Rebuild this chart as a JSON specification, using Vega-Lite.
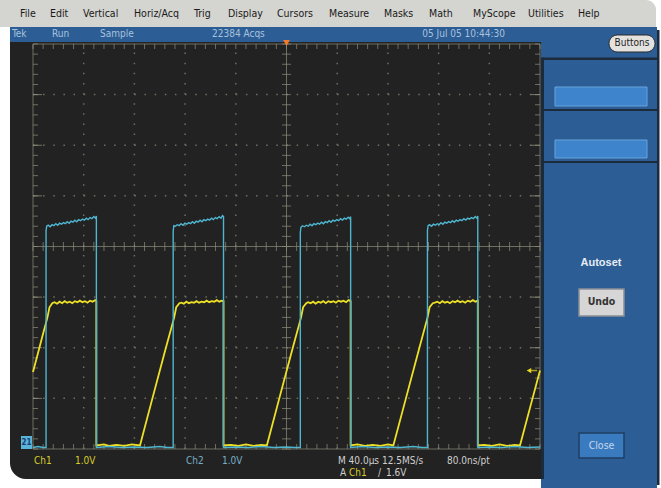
{
 "$schema": "https://vega.github.io/schema/vega-lite/v6.json",
 "width": 661, "height": 488, "padding": 0,
 "autosize": {"type": "fit", "contains": "padding"},
 "background": "#ffffff",
 "config": {"view": {"stroke": null}},
 "datasets": {
  "tx": [{"t":0},{"t":8},{"t":16},{"t":24},{"t":32},{"t":40},{"t":48},{"t":56},{"t":64},{"t":72},{"t":80},{"t":88},{"t":96},{"t":104},{"t":112},{"t":120},{"t":128},{"t":136},{"t":144},{"t":152},{"t":160},{"t":168},{"t":176},{"t":184},{"t":192},{"t":200},{"t":208},{"t":216},{"t":224},{"t":232},{"t":240},{"t":248},{"t":256},{"t":264},{"t":272},{"t":280},{"t":288},{"t":296},{"t":304},{"t":312},{"t":320},{"t":328},{"t":336},{"t":344},{"t":352},{"t":360},{"t":368},{"t":376},{"t":384},{"t":392},{"t":400}],
  "vy": [{"v":0},{"v":0.2},{"v":0.4},{"v":0.6},{"v":0.8},{"v":1},{"v":1.2},{"v":1.4},{"v":1.6},{"v":1.8},{"v":2},{"v":2.2},{"v":2.4},{"v":2.6},{"v":2.8},{"v":3},{"v":3.2},{"v":3.4},{"v":3.6},{"v":3.8},{"v":4},{"v":4.2},{"v":4.4},{"v":4.6},{"v":4.8},{"v":5},{"v":5.2},{"v":5.4},{"v":5.6},{"v":5.8},{"v":6},{"v":6.2},{"v":6.4},{"v":6.6},{"v":6.8},{"v":7},{"v":7.2},{"v":7.4},{"v":7.6},{"v":7.8},{"v":8}],
  "ch1": [{"t":0,"v":1.52},{"t":4,"v":1.9},{"t":8,"v":2.28},{"t":11.4,"v":2.6},{"t":13,"v":2.8},{"t":15.2,"v":2.88},{"t":17,"v":2.9},{"t":19,"v":2.87},{"t":21,"v":2.91},{"t":23,"v":2.88},{"t":25,"v":2.92},{"t":27,"v":2.89},{"t":29,"v":2.91},{"t":31,"v":2.88},{"t":33,"v":2.92},{"t":35,"v":2.9},{"t":37,"v":2.93},{"t":39,"v":2.9},{"t":41,"v":2.92},{"t":43,"v":2.89},{"t":45,"v":2.93},{"t":47,"v":2.91},{"t":49,"v":2.94},{"t":50,"v":2.92},{"t":50,"v":0.07},
   {"t":56,"v":0.09},{"t":60,"v":0.06},{"t":66,"v":0.08},{"t":72,"v":0.06},{"t":78,"v":0.09},{"t":84.4,"v":0.07},{"t":94,"v":0.98},{"t":104,"v":1.92},{"t":111.4,"v":2.6},{"t":113,"v":2.8},{"t":115.5,"v":2.88},
   {"t":117,"v":2.89},{"t":119,"v":2.87},{"t":121,"v":2.91},{"t":123,"v":2.88},{"t":125,"v":2.9},{"t":127,"v":2.89},{"t":129,"v":2.92},{"t":131,"v":2.89},{"t":133,"v":2.91},{"t":135,"v":2.9},{"t":137,"v":2.93},{"t":139,"v":2.9},{"t":141,"v":2.92},{"t":143,"v":2.91},{"t":145,"v":2.94},{"t":147,"v":2.91},{"t":149,"v":2.93},{"t":150.3,"v":2.92},{"t":150.3,"v":0.07},
   {"t":156,"v":0.08},{"t":162,"v":0.06},{"t":168,"v":0.09},{"t":174,"v":0.06},{"t":180,"v":0.08},{"t":184.5,"v":0.07},{"t":194,"v":0.97},{"t":204,"v":1.91},{"t":211.5,"v":2.6},{"t":213.1,"v":2.8},{"t":215.6,"v":2.88},
   {"t":217,"v":2.9},{"t":219,"v":2.88},{"t":221,"v":2.91},{"t":223,"v":2.87},{"t":225,"v":2.91},{"t":227,"v":2.89},{"t":229,"v":2.92},{"t":231,"v":2.88},{"t":233,"v":2.92},{"t":235,"v":2.9},{"t":237,"v":2.92},{"t":239,"v":2.89},{"t":241,"v":2.93},{"t":243,"v":2.91},{"t":245,"v":2.93},{"t":247,"v":2.9},{"t":249,"v":2.94},{"t":250.6,"v":2.92},{"t":250.6,"v":0.07},
   {"t":256,"v":0.09},{"t":262,"v":0.06},{"t":268,"v":0.08},{"t":274,"v":0.06},{"t":280,"v":0.09},{"t":284.3,"v":0.07},{"t":294,"v":0.98},{"t":304,"v":1.92},{"t":311.3,"v":2.6},{"t":312.9,"v":2.8},{"t":315.4,"v":2.88},
   {"t":317,"v":2.89},{"t":319,"v":2.91},{"t":321,"v":2.88},{"t":323,"v":2.92},{"t":325,"v":2.89},{"t":327,"v":2.91},{"t":329,"v":2.88},{"t":331,"v":2.92},{"t":333,"v":2.9},{"t":335,"v":2.93},{"t":337,"v":2.9},{"t":339,"v":2.92},{"t":341,"v":2.89},{"t":343,"v":2.93},{"t":345,"v":2.91},{"t":347,"v":2.94},{"t":349,"v":2.91},{"t":350.9,"v":2.93},{"t":350.9,"v":0.07},
   {"t":356,"v":0.08},{"t":362,"v":0.06},{"t":368,"v":0.09},{"t":374,"v":0.06},{"t":380,"v":0.08},{"t":384.2,"v":0.07},{"t":394,"v":0.99},{"t":400,"v":1.55}],
  "ch2": [{"t":0,"v":0.03},{"t":4,"v":0.05},{"t":8,"v":0.03},
   {"t":10.3,"v":0.03},{"t":10.3,"v":4.31},{"t":10.8,"v":4.4},{"t":12,"v":4.42},{"t":13.5,"v":4.39},{"t":15,"v":4.43},{"t":16.5,"v":4.41},{"t":18,"v":4.45},{"t":19.5,"v":4.42},{"t":21,"v":4.46},{"t":22.5,"v":4.44},{"t":24,"v":4.47},{"t":25.5,"v":4.45},{"t":27,"v":4.49},{"t":28.5,"v":4.46},{"t":30,"v":4.5},{"t":31.5,"v":4.48},{"t":33,"v":4.52},{"t":34.5,"v":4.49},{"t":36,"v":4.53},{"t":37.5,"v":4.51},{"t":39,"v":4.54},{"t":40.5,"v":4.52},{"t":42,"v":4.56},{"t":43.5,"v":4.53},{"t":45,"v":4.57},{"t":46.5,"v":4.55},{"t":48,"v":4.59},{"t":49.2,"v":4.56},{"t":50,"v":4.6},{"t":50,"v":0.03},
   {"t":60,"v":0.05},{"t":70,"v":0.03},{"t":80,"v":0.04},{"t":90,"v":0.03},{"t":100,"v":0.05},{"t":106,"v":0.03},
   {"t":110.6,"v":0.03},{"t":110.6,"v":4.3},{"t":111.1,"v":4.41},{"t":112.3,"v":4.4},{"t":113.8,"v":4.43},{"t":115.3,"v":4.41},{"t":116.8,"v":4.45},{"t":118.3,"v":4.42},{"t":119.8,"v":4.46},{"t":121.3,"v":4.44},{"t":122.8,"v":4.47},{"t":124.3,"v":4.45},{"t":125.8,"v":4.49},{"t":127.3,"v":4.46},{"t":128.8,"v":4.5},{"t":130.3,"v":4.48},{"t":131.8,"v":4.52},{"t":133.3,"v":4.49},{"t":134.8,"v":4.53},{"t":136.3,"v":4.51},{"t":137.8,"v":4.54},{"t":139.3,"v":4.52},{"t":140.8,"v":4.56},{"t":142.3,"v":4.53},{"t":143.8,"v":4.57},{"t":145.3,"v":4.55},{"t":146.8,"v":4.59},{"t":148.3,"v":4.56},{"t":149.5,"v":4.61},{"t":150.3,"v":4.59},{"t":150.3,"v":0.03},
   {"t":160,"v":0.04},{"t":170,"v":0.03},{"t":180,"v":0.05},{"t":190,"v":0.03},{"t":200,"v":0.04},{"t":206,"v":0.03},
   {"t":210.9,"v":0.03},{"t":210.9,"v":4.28},{"t":211.4,"v":4.38},{"t":212.6,"v":4.41},{"t":214.1,"v":4.39},{"t":215.6,"v":4.42},{"t":217.1,"v":4.4},{"t":218.6,"v":4.44},{"t":220.1,"v":4.41},{"t":221.6,"v":4.45},{"t":223.1,"v":4.43},{"t":224.6,"v":4.46},{"t":226.1,"v":4.44},{"t":227.6,"v":4.48},{"t":229.1,"v":4.45},{"t":230.6,"v":4.49},{"t":232.1,"v":4.47},{"t":233.6,"v":4.51},{"t":235.1,"v":4.48},{"t":236.6,"v":4.52},{"t":238.1,"v":4.5},{"t":239.6,"v":4.53},{"t":241.1,"v":4.51},{"t":242.6,"v":4.55},{"t":244.1,"v":4.52},{"t":245.6,"v":4.56},{"t":247.1,"v":4.54},{"t":248.6,"v":4.58},{"t":249.8,"v":4.55},{"t":250.6,"v":4.59},{"t":250.6,"v":0.03},
   {"t":260,"v":0.05},{"t":270,"v":0.03},{"t":280,"v":0.04},{"t":290,"v":0.03},{"t":300,"v":0.05},{"t":307,"v":0.03},
   {"t":311.2,"v":0.03},{"t":311.2,"v":4.32},{"t":311.7,"v":4.41},{"t":312.9,"v":4.43},{"t":314.4,"v":4.4},{"t":315.9,"v":4.44},{"t":317.4,"v":4.42},{"t":318.9,"v":4.45},{"t":320.4,"v":4.43},{"t":321.9,"v":4.47},{"t":323.4,"v":4.44},{"t":324.9,"v":4.48},{"t":326.4,"v":4.46},{"t":327.9,"v":4.49},{"t":329.4,"v":4.47},{"t":330.9,"v":4.51},{"t":332.4,"v":4.48},{"t":333.9,"v":4.52},{"t":335.4,"v":4.5},{"t":336.9,"v":4.53},{"t":338.4,"v":4.51},{"t":339.9,"v":4.55},{"t":341.4,"v":4.52},{"t":342.9,"v":4.56},{"t":344.4,"v":4.54},{"t":345.9,"v":4.57},{"t":347.4,"v":4.55},{"t":348.9,"v":4.59},{"t":350.1,"v":4.56},{"t":350.9,"v":4.6},{"t":350.9,"v":0.03},
   {"t":360,"v":0.04},{"t":370,"v":0.03},{"t":380,"v":0.05},{"t":390,"v":0.03},{"t":400,"v":0.04}]
 },
 "layer": [
  {"data": {"values": [{"x1": -26.035, "x2": 491.52, "y1": 8.869, "y2": 8.336}]},
   "mark": {"type": "rect", "fill": "#d4d4d0", "cornerRadiusTopRight": 10},
   "encoding": {"x": {"field": "x1", "type": "quantitative", "scale": {"domain": [-26.035, 495.46], "nice": false, "zero": false}, "axis": null}, "x2": {"field": "x2"},
    "y": {"field": "y1", "type": "quantitative", "scale": {"domain": [-0.7704, 8.869], "nice": false, "zero": false}, "axis": null}, "y2": {"field": "y2"}}},
  {"data": {"values": [{"x1": -18.15, "x2": 492.3, "y1": 8.336, "y2": 8.0395}, {"x1": 400.79, "x2": 492.3, "y1": 8.0395, "y2": -0.7704}]},
   "mark": {"type": "rect", "fill": "#2c5d94"},
   "encoding": {"x": {"field": "x1", "type": "quantitative", "axis": null}, "x2": {"field": "x2"}, "y": {"field": "y1", "type": "quantitative", "axis": null}, "y2": {"field": "y2"}}},
  {"data": {"values": [{"x1": -18.15, "x2": 400.79, "y1": 8.0395, "y2": -0.5926}]},
   "mark": {"type": "rect", "fill": "#222222", "cornerRadiusBottomLeft": 16},
   "encoding": {"x": {"field": "x1", "type": "quantitative", "axis": null}, "x2": {"field": "x2"}, "y": {"field": "y1", "type": "quantitative", "axis": null}, "y2": {"field": "y2"}}},
  {"data": {"values": [{"x1": 492.3, "x2": 494.28, "y1": 8.2765, "y2": -0.7111}, {"x1": 400.79, "x2": 403.15, "y1": 7.7333, "y2": -0.5926}, {"x1": 402.36, "x2": 492.3, "y1": 7.7333, "y2": 7.6839}, {"x1": 402.36, "x2": 492.3, "y1": 6.716, "y2": 6.6765}, {"x1": 402.36, "x2": 492.3, "y1": 5.6889, "y2": 5.6494}]},
   "mark": {"type": "rect", "fill": "#1c2b3c"},
   "encoding": {"x": {"field": "x1", "type": "quantitative", "axis": null}, "x2": {"field": "x2"}, "y": {"field": "y1", "type": "quantitative", "axis": null}, "y2": {"field": "y2"}}},
  {"data": {"values": [{"x1": 411.83, "x2": 484.42, "y1": 7.1506, "y2": 6.7753}, {"x1": 411.83, "x2": 484.42, "y1": 6.1037, "y2": 5.7481}]},
   "mark": {"type": "rect", "fill": "#3d84cd", "stroke": "#6aa3dc", "strokeWidth": 1},
   "encoding": {"x": {"field": "x1", "type": "quantitative", "axis": null}, "x2": {"field": "x2"}, "y": {"field": "y1", "type": "quantitative", "axis": null}, "y2": {"field": "y2"}}},
  {"data": {"values": [{"x1": 454.44, "x2": 490.73, "y1": 8.1777, "y2": 7.8419}]},
   "mark": {"type": "rect", "fill": "#e4e2de", "stroke": "#2a2a2a", "strokeWidth": 1, "cornerRadius": 8.5},
   "encoding": {"x": {"field": "x1", "type": "quantitative", "axis": null}, "x2": {"field": "x2"}, "y": {"field": "y1", "type": "quantitative", "axis": null}, "y2": {"field": "y2"}}},
  {"data": {"values": [{"x1": 430.77, "x2": 466.27, "y1": 3.1605, "y2": 2.6271}]},
   "mark": {"type": "rect", "fill": "#d6d6d6", "stroke": "#8a8f96", "strokeWidth": 1.5},
   "encoding": {"x": {"field": "x1", "type": "quantitative", "axis": null}, "x2": {"field": "x2"}, "y": {"field": "y1", "type": "quantitative", "axis": null}, "y2": {"field": "y2"}}},
  {"data": {"values": [{"x1": 430.77, "x2": 466.27, "y1": 0.316, "y2": -0.1778}]},
   "mark": {"type": "rect", "fill": "#3a7bc0", "stroke": "#1f3f62", "strokeWidth": 1.5},
   "encoding": {"x": {"field": "x1", "type": "quantitative", "axis": null}, "x2": {"field": "x2"}, "y": {"field": "y1", "type": "quantitative", "axis": null}, "y2": {"field": "y2"}}},
  {"data": {"values": [{"t": 40}, {"t": 80}, {"t": 120}, {"t": 160}, {"t": 240}, {"t": 280}, {"t": 320}, {"t": 360}]},
   "mark": {"type": "rule", "stroke": "#6e6e62", "strokeWidth": 1.5, "strokeDash": [1.5, 8.625]},
   "encoding": {"x": {"field": "t", "type": "quantitative", "axis": null}, "y": {"datum": 0, "type": "quantitative", "axis": null}, "y2": {"datum": 8}}},
  {"data": {"values": [{"v": 1}, {"v": 2}, {"v": 3}, {"v": 5}, {"v": 6}, {"v": 7}]},
   "mark": {"type": "rule", "stroke": "#6e6e62", "strokeWidth": 1.5, "strokeDash": [1.5, 8.64]},
   "encoding": {"y": {"field": "v", "type": "quantitative", "axis": null}, "x": {"datum": 0, "type": "quantitative", "axis": null}, "x2": {"datum": 400}}},
  {"data": {"values": [{"t": 200}]},
   "mark": {"type": "rule", "stroke": "#6e6e62", "strokeWidth": 1},
   "encoding": {"x": {"field": "t", "type": "quantitative", "axis": null}, "y": {"datum": 0, "type": "quantitative", "axis": null}, "y2": {"datum": 8}}},
  {"data": {"values": [{"v": 4}]},
   "mark": {"type": "rule", "stroke": "#6e6e62", "strokeWidth": 1},
   "encoding": {"y": {"field": "v", "type": "quantitative", "axis": null}, "x": {"datum": 0, "type": "quantitative", "axis": null}, "x2": {"datum": 400}}},
  {"data": {"values": [{"x1": 0, "x2": 400, "y1": 0, "y2": 8}]},
   "mark": {"type": "rect", "fill": "transparent", "stroke": "#6e6e62", "strokeWidth": 1},
   "encoding": {"x": {"field": "x1", "type": "quantitative", "axis": null}, "x2": {"field": "x2"}, "y": {"field": "y1", "type": "quantitative", "axis": null}, "y2": {"field": "y2"}}},
  {"data": {"name": "tx"},
   "mark": {"type": "tick", "orient": "vertical", "size": 9, "thickness": 1, "color": "#8e8e7a"},
   "encoding": {"x": {"field": "t", "type": "quantitative", "axis": null}, "y": {"datum": 4, "type": "quantitative", "axis": null}}},
  {"data": {"name": "tx"},
   "mark": {"type": "tick", "orient": "vertical", "size": 5, "thickness": 1, "color": "#8e8e7a", "yOffset": 2.5},
   "encoding": {"x": {"field": "t", "type": "quantitative", "axis": null}, "y": {"datum": 8, "type": "quantitative", "axis": null}}},
  {"data": {"name": "tx"},
   "mark": {"type": "tick", "orient": "vertical", "size": 5, "thickness": 1, "color": "#8e8e7a", "yOffset": -2.5},
   "encoding": {"x": {"field": "t", "type": "quantitative", "axis": null}, "y": {"datum": 0, "type": "quantitative", "axis": null}}},
  {"data": {"name": "vy"},
   "mark": {"type": "tick", "orient": "horizontal", "size": 9, "thickness": 1, "color": "#8e8e7a"},
   "encoding": {"y": {"field": "v", "type": "quantitative", "axis": null}, "x": {"datum": 200, "type": "quantitative", "axis": null}}},
  {"data": {"name": "vy"},
   "mark": {"type": "tick", "orient": "horizontal", "size": 5, "thickness": 1, "color": "#8e8e7a", "xOffset": 2.5},
   "encoding": {"y": {"field": "v", "type": "quantitative", "axis": null}, "x": {"datum": 0, "type": "quantitative", "axis": null}}},
  {"data": {"name": "vy"},
   "mark": {"type": "tick", "orient": "horizontal", "size": 5, "thickness": 1, "color": "#8e8e7a", "xOffset": -2.5},
   "encoding": {"y": {"field": "v", "type": "quantitative", "axis": null}, "x": {"datum": 400, "type": "quantitative", "axis": null}}},
  {"data": {"values": [{"v": 1}, {"v": 2}, {"v": 3}, {"v": 5}, {"v": 6}, {"v": 7}]},
   "mark": {"type": "tick", "orient": "horizontal", "size": 9, "thickness": 1, "color": "#9a9a86", "xOffset": 4.5},
   "encoding": {"y": {"field": "v", "type": "quantitative", "axis": null}, "x": {"datum": 0, "type": "quantitative", "axis": null}}},
  {"data": {"values": [{"v": 1}, {"v": 2}, {"v": 3}, {"v": 5}, {"v": 6}, {"v": 7}]},
   "mark": {"type": "tick", "orient": "horizontal", "size": 9, "thickness": 1, "color": "#9a9a86", "xOffset": -4.5},
   "encoding": {"y": {"field": "v", "type": "quantitative", "axis": null}, "x": {"datum": 400, "type": "quantitative", "axis": null}}},
  {"data": {"name": "ch1"},
   "mark": {"type": "line", "color": "#eee027", "strokeWidth": 1.8},
   "encoding": {"x": {"field": "t", "type": "quantitative", "axis": null}, "y": {"field": "v", "type": "quantitative", "axis": null}, "order": {"value": null}}},
  {"data": {"name": "ch2"},
   "mark": {"type": "line", "color": "#4fb6d0", "strokeWidth": 1.4},
   "encoding": {"x": {"field": "t", "type": "quantitative", "axis": null}, "y": {"field": "v", "type": "quantitative", "axis": null}, "order": {"value": null}}},
  {"data": {"values": [{"t": 200, "v": 8}]},
   "mark": {"type": "point", "shape": "triangle-down", "filled": true, "size": 45, "color": "#f37a2a", "opacity": 1, "yOffset": -1},
   "encoding": {"x": {"field": "t", "type": "quantitative", "axis": null}, "y": {"field": "v", "type": "quantitative", "axis": null}}},
  {"data": {"values": [{"t": 391.3, "level": 1.55}]},
   "mark": {"type": "point", "shape": "triangle-left", "filled": true, "size": 28, "color": "#e8d822", "opacity": 1},
   "encoding": {"x": {"field": "t", "type": "quantitative", "axis": null}, "y": {"field": "level", "type": "quantitative", "axis": null}}},
  {"data": {"values": [{"t": 395, "level": 1.55}]},
   "mark": {"type": "tick", "orient": "horizontal", "size": 7, "thickness": 1.5, "color": "#e8d822"},
   "encoding": {"x": {"field": "t", "type": "quantitative", "axis": null}, "y": {"field": "level", "type": "quantitative", "axis": null}}},
  {"data": {"values": [{"x1": -9.47, "x2": -0.79, "y1": 0.2568, "y2": 0}]},
   "mark": {"type": "rect", "fill": "#5ab4d8"},
   "encoding": {"x": {"field": "x1", "type": "quantitative", "axis": null}, "x2": {"field": "x2"}, "y": {"field": "y1", "type": "quantitative", "axis": null}, "y2": {"field": "y2"}}},
  {"data": {"values": [{"x": -5.1, "y": 0.128, "label": "21"}]},
   "mark": {"type": "text", "font": "DejaVu Sans Condensed, sans-serif", "fontSize": 8, "fontWeight": "bold", "color": "#1b3d70", "align": "center", "baseline": "middle"},
   "encoding": {"x": {"field": "x", "type": "quantitative", "axis": null}, "y": {"field": "y", "type": "quantitative", "axis": null}, "text": {"field": "label"}}},
  {"data": {"values": [{"x": -10.26, "y": 8.593, "label": "File"}, {"x": 13.41, "y": 8.593, "label": "Edit"}, {"x": 39.45, "y": 8.593, "label": "Vertical"}, {"x": 79.68, "y": 8.593, "label": "Horiz/Acq"}, {"x": 127.02, "y": 8.593, "label": "Trig"}, {"x": 153.85, "y": 8.593, "label": "Display"}, {"x": 192.5, "y": 8.593, "label": "Cursors"}, {"x": 233.53, "y": 8.593, "label": "Measure"}, {"x": 276.92, "y": 8.593, "label": "Masks"}, {"x": 312.42, "y": 8.593, "label": "Math"}, {"x": 347.14, "y": 8.593, "label": "MyScope"}, {"x": 390.53, "y": 8.593, "label": "Utilities"}, {"x": 429.98, "y": 8.593, "label": "Help"}]},
   "mark": {"type": "text", "font": "Liberation Sans Narrow, DejaVu Sans Condensed, sans-serif", "fontSize": 10.5, "color": "#1a1a1a", "align": "left", "baseline": "middle"},
   "encoding": {"x": {"field": "x", "type": "quantitative", "axis": null}, "y": {"field": "y", "type": "quantitative", "axis": null}, "text": {"field": "label"}}},
  {"data": {"values": [{"x": -16.57, "y": 8.188, "label": "Tek"}, {"x": 14.99, "y": 8.188, "label": "Run"}, {"x": 52.86, "y": 8.188, "label": "Sample"}, {"x": 141.22, "y": 8.188, "label": "22384 Acqs"}]},
   "mark": {"type": "text", "font": "Liberation Sans Narrow, DejaVu Sans Condensed, sans-serif", "fontSize": 10, "color": "#a8c2dd", "align": "left", "baseline": "middle"},
   "encoding": {"x": {"field": "x", "type": "quantitative", "axis": null}, "y": {"field": "y", "type": "quantitative", "axis": null}, "text": {"field": "label"}}},
  {"data": {"values": [{"x": 372.38, "y": 8.188, "label": "05 Jul 05 10:44:30"}]},
   "mark": {"type": "text", "font": "Liberation Sans Narrow, DejaVu Sans Condensed, sans-serif", "fontSize": 10, "color": "#a8c2dd", "align": "right", "baseline": "middle"},
   "encoding": {"x": {"field": "x", "type": "quantitative", "axis": null}, "y": {"field": "y", "type": "quantitative", "axis": null}, "text": {"field": "label"}}},
  {"data": {"values": [{"x": 472.58, "y": 8.01, "label": "Buttons"}]},
   "mark": {"type": "text", "font": "Liberation Sans Narrow, DejaVu Sans Condensed, sans-serif", "fontSize": 10, "color": "#1e1e1e", "align": "center", "baseline": "middle"},
   "encoding": {"x": {"field": "x", "type": "quantitative", "axis": null}, "y": {"field": "y", "type": "quantitative", "axis": null}, "text": {"field": "label"}}},
  {"data": {"values": [{"x": 448.12, "y": 3.674, "label": "Autoset"}]},
   "mark": {"type": "text", "font": "Liberation Sans, DejaVu Sans, sans-serif", "fontSize": 11, "fontWeight": "bold", "color": "#e6ecf2", "align": "center", "baseline": "middle"},
   "encoding": {"x": {"field": "x", "type": "quantitative", "axis": null}, "y": {"field": "y", "type": "quantitative", "axis": null}, "text": {"field": "label"}}},
  {"data": {"values": [{"x": 448.52, "y": 2.894, "label": "Undo"}]},
   "mark": {"type": "text", "font": "Liberation Sans Narrow, DejaVu Sans Condensed, sans-serif", "fontSize": 10.5, "fontWeight": "bold", "color": "#333333", "align": "center", "baseline": "middle"},
   "encoding": {"x": {"field": "x", "type": "quantitative", "axis": null}, "y": {"field": "y", "type": "quantitative", "axis": null}, "text": {"field": "label"}}},
  {"data": {"values": [{"x": 448.52, "y": 0.069, "label": "Close"}]},
   "mark": {"type": "text", "font": "Liberation Sans Narrow, DejaVu Sans Condensed, sans-serif", "fontSize": 10.5, "color": "#c5d6ea", "align": "center", "baseline": "middle"},
   "encoding": {"x": {"field": "x", "type": "quantitative", "axis": null}, "y": {"field": "y", "type": "quantitative", "axis": null}, "text": {"field": "label"}}},
  {"data": {"values": [{"x": 0.79, "y": -0.237, "label": "Ch1"}, {"x": 33.14, "y": -0.237, "label": "1.0V"}, {"x": 249.31, "y": -0.474, "label": "Ch1"}]},
   "mark": {"type": "text", "font": "Liberation Sans Narrow, DejaVu Sans Condensed, sans-serif", "fontSize": 10, "color": "#d8cc2a", "align": "left", "baseline": "middle"},
   "encoding": {"x": {"field": "x", "type": "quantitative", "axis": null}, "y": {"field": "y", "type": "quantitative", "axis": null}, "text": {"field": "label"}}},
  {"data": {"values": [{"x": 120.71, "y": -0.237, "label": "Ch2"}, {"x": 149.11, "y": -0.237, "label": "1.0V"}]},
   "mark": {"type": "text", "font": "Liberation Sans Narrow, DejaVu Sans Condensed, sans-serif", "fontSize": 10, "color": "#78aec6", "align": "left", "baseline": "middle"},
   "encoding": {"x": {"field": "x", "type": "quantitative", "axis": null}, "y": {"field": "y", "type": "quantitative", "axis": null}, "text": {"field": "label"}}},
  {"data": {"values": [{"x": 240.63, "y": -0.237, "label": "M 40.0µs 12.5MS/s"}, {"x": 326.63, "y": -0.237, "label": "80.0ns/pt"}, {"x": 242.21, "y": -0.474, "label": "A"}, {"x": 272.19, "y": -0.474, "label": "/"}, {"x": 278.5, "y": -0.474, "label": "1.6V"}]},
   "mark": {"type": "text", "font": "Liberation Sans Narrow, DejaVu Sans Condensed, sans-serif", "fontSize": 10, "color": "#cfcfcf", "align": "left", "baseline": "middle"},
   "encoding": {"x": {"field": "x", "type": "quantitative", "axis": null}, "y": {"field": "y", "type": "quantitative", "axis": null}, "text": {"field": "label"}}}
 ]
}
